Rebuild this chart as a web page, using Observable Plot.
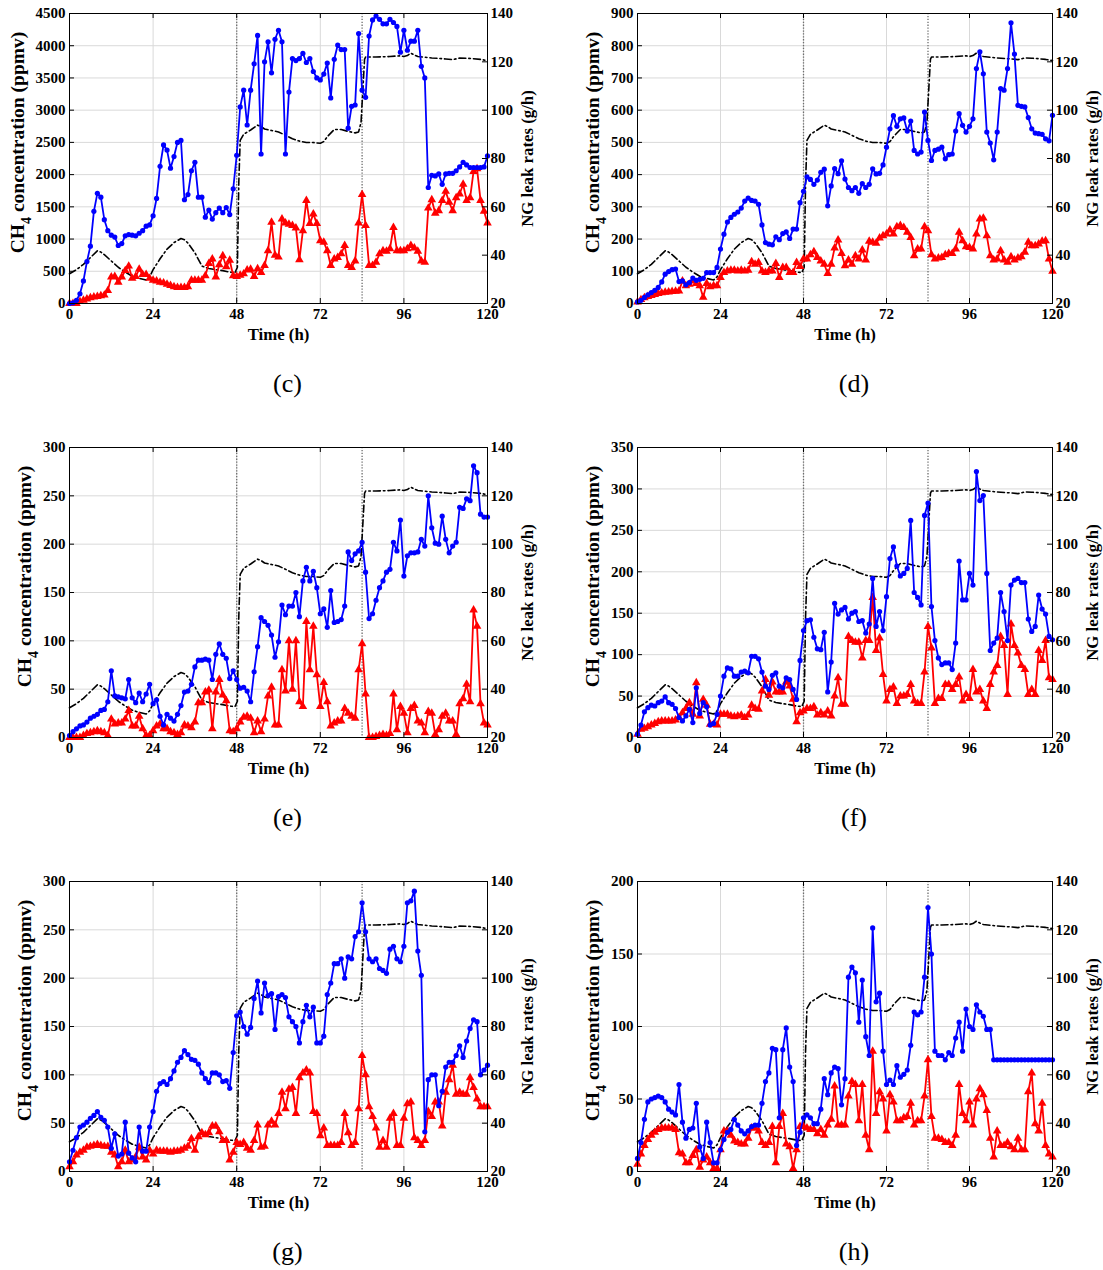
<!DOCTYPE html>
<html><head><meta charset="utf-8">
<script src="https://cdn.jsdelivr.net/npm/d3@7"></script>
<script src="https://cdn.jsdelivr.net/npm/@observablehq/plot@0.6"></script>
<style>
body{margin:0;background:#fff}
#wrap{position:relative;width:1103px;height:1270px;background:#fff}
.panel{position:absolute}
</style>
</head><body><div id="wrap"></div>
<script>
// Hourly values, t = 0..120 h
const cBlue = [
0,10,50,150,350,650,890,1430,1710,1650,
1300,1130,1060,1030,900,930,1050,1070,1060,1050,
1090,1130,1200,1220,1360,1630,2130,2460,2380,2100,
2280,2500,2530,1610,1690,2060,2190,1650,1650,1340,
1450,1310,1410,1480,1410,1490,1380,1780,2300,3050,
3310,2770,3310,3720,4160,2320,3750,4060,3580,4100,
4240,4060,2320,3280,3800,3770,3800,3880,3740,3800,
3600,3500,3470,3560,3730,3190,3790,4010,3940,3940,
2720,3060,3080,4190,3310,3200,4150,4400,4460,4410,
4340,4340,4410,4360,4300,3900,4240,3930,4070,4070,
4240,3680,3500,1800,1990,1980,2010,1850,2010,2020,
2020,2060,2120,2190,2150,2110,2110,2110,2110,2120,
2290];
const cRed = [
0,0,0,30,50,70,90,100,110,120,
130,200,410,420,330,410,510,580,390,420,
530,450,450,390,360,350,330,320,300,280,
260,250,250,250,260,360,360,360,360,430,
620,690,410,600,740,570,670,430,420,440,
460,520,530,420,540,480,590,820,1260,750,
720,1310,1250,1230,1210,1170,680,1130,1600,1240,
1390,1240,975,950,820,590,690,715,770,900,
590,560,660,1250,1690,1210,590,590,640,770,
820,810,850,1180,820,820,820,850,900,860,
810,660,640,1480,1610,1400,1440,1600,1740,1570,
1440,1640,1700,1850,1600,1640,2050,2090,1600,1430,
1250];
const dBlue = [
5,10,19,27,34,41,50,67,91,99,
105,107,68,70,58,65,79,72,75,78,
96,96,96,112,169,215,253,267,277,284,
296,318,327,320,318,308,244,189,184,182,
207,198,217,222,202,231,231,313,348,393,
385,370,383,407,417,303,365,419,403,443,
386,360,350,360,342,372,360,370,418,402,
404,430,485,542,583,550,573,576,535,566,
475,464,470,594,506,444,475,479,485,449,
462,464,535,589,553,532,550,573,729,781,
713,532,498,446,532,667,662,729,871,774,
615,612,610,577,542,529,527,525,511,505,
584];
const dRed = [
5,12,18,22,25,28,31,33,35,36,
37,38,39,70,55,60,70,62,55,19,
62,52,55,55,81,96,101,103,103,101,
103,101,103,130,122,127,101,96,101,101,
124,81,112,112,96,96,127,115,138,138,
151,161,143,132,122,93,122,172,197,155,
117,135,122,148,138,166,135,193,190,187,
203,210,216,228,216,238,242,236,221,205,
148,169,169,238,226,151,138,141,143,151,
155,155,169,221,195,176,174,169,216,262,
265,210,148,135,138,164,135,128,145,135,
141,145,159,190,179,179,185,193,195,138,
100];
const eBlue = [
2,6,9,12,13,16,20,22,24,28,
29,37,69,43,42,41,40,60,41,36,
46,37,45,55,35,39,22,13,24,20,
17,24,33,47,48,55,73,80,80,81,
80,60,86,97,86,82,61,69,60,51,
52,48,37,68,94,124,120,116,106,83,
99,137,127,136,136,150,125,162,176,162,
172,155,128,133,114,152,119,120,122,136,
192,183,190,193,202,171,123,128,142,155,
162,171,174,202,193,225,167,188,191,191,
192,205,198,250,217,201,200,229,205,191,
198,202,238,237,247,245,281,274,231,228,
228];
const eRed = [
0,0,0,0,2,4,5,6,7,6,
5,2,19,14,15,15,19,28,12,12,
22,9,2,2,7,12,14,9,9,6,
5,3,5,13,12,10,16,36,36,47,
49,9,47,60,44,38,7,6,9,16,
21,22,20,5,17,6,19,43,52,13,
13,70,48,100,50,100,37,32,120,70,
115,65,32,57,37,12,15,17,17,30,
25,22,20,70,97,45,0,0,1,2,
3,2,4,45,8,32,25,5,30,33,
17,15,5,27,25,3,8,22,25,17,
17,3,35,40,55,37,132,115,35,15,
13];
const fBlue = [
4,15,31,36,39,38,42,44,49,42,
40,35,24,20,26,34,18,60,29,42,
37,15,17,28,50,74,84,83,74,74,
79,80,78,98,98,95,79,62,58,75,
78,62,60,72,70,58,46,93,129,141,
142,121,107,106,127,55,91,162,149,154,
157,143,150,152,140,141,126,137,192,134,
152,129,170,216,230,207,195,198,204,262,
175,169,160,268,283,158,117,96,88,90,
90,82,114,213,166,166,198,184,321,286,
292,198,105,114,120,175,152,117,184,190,
192,187,187,143,128,134,172,155,149,122,
118];
const fRed = [
4,10,11,13,15,17,19,20,20,20,
20,21,24,30,35,42,28,66,26,46,
39,16,16,15,28,28,28,26,25,26,
27,24,27,39,35,34,56,70,51,67,
55,55,55,67,62,46,19,30,32,35,
35,37,27,30,27,32,26,50,72,40,
40,122,117,115,115,96,117,117,169,105,
120,76,44,58,61,41,50,50,52,64,
44,41,41,79,134,108,41,47,47,64,
64,58,64,73,44,52,47,82,55,58,
44,35,64,79,87,122,111,52,137,111,
102,87,82,52,58,52,105,93,117,72,
70];
const gBlue = [
10,22,35,46,48,51,55,58,62,56,
53,46,24,39,16,18,51,19,14,10,
46,21,21,46,62,83,91,93,90,96,
104,113,118,125,121,116,115,111,102,96,
92,102,102,100,93,94,86,123,161,165,
150,142,149,179,197,164,195,182,184,147,
181,183,180,160,155,150,133,155,172,160,
170,133,133,140,183,195,215,215,220,200,
222,220,243,248,278,248,220,217,220,210,
208,205,230,233,220,217,233,278,280,290,
228,203,41,95,100,100,68,83,108,113,
113,120,130,118,135,148,157,155,100,105,
110];
const gRed = [
5,10,17,20,22,25,26,27,28,27,
26,26,20,17,5,10,22,10,12,15,
25,15,12,22,18,22,21,21,21,20,
21,21,22,24,26,34,22,36,40,38,
40,47,47,41,32,32,12,20,30,28,
30,24,22,32,48,25,26,48,52,48,
60,82,65,85,87,60,97,102,105,102,
62,60,37,45,27,27,27,27,30,60,
40,27,30,65,120,100,67,57,45,25,
32,25,55,60,27,27,55,70,72,35,
32,27,32,62,57,72,72,47,82,95,
110,80,82,80,80,97,87,75,67,67,
67];
const hBlue = [
9,20,36,48,50,51,52,51,48,43,
41,39,60,34,23,29,30,47,17,9,
34,20,6,6,15,22,27,29,36,32,
28,26,28,31,32,32,47,62,68,85,
84,37,84,99,72,62,18,27,37,39,
37,33,33,43,64,53,68,72,71,46,
64,134,141,137,103,132,93,80,168,117,
123,83,60,63,60,73,65,67,70,87,
110,108,110,134,182,150,83,80,80,77,
82,80,92,103,83,112,100,98,115,110,
107,98,98,77,77,77,77,77,77,77,
77,77,77,77,77,77,77,77,77,77,
77];
const hRed = [
5,12,18,22,25,27,29,30,30,30,
30,29,13,12,6,6,11,15,3,8,
10,6,2,2,15,28,28,25,21,20,
19,19,23,30,30,28,20,18,20,31,
6,31,40,19,17,2,15,31,31,30,
29,29,26,29,25,32,36,59,32,32,
32,52,62,60,35,60,25,15,83,40,
55,50,28,53,48,35,35,37,38,47,
32,35,35,52,77,38,23,23,22,20,
20,18,25,60,40,35,48,32,50,57,
53,42,23,10,28,18,18,20,17,15,
23,15,15,55,68,33,28,47,18,12,
10];

// NG leak rate (g/h), right axis
const blackT = [0,2,4,6,8,9,10,12,14,16,18,20,22,23,24,26,28,30,32,33,34,36,38,40,42,44,46,47.5,48.2,48.6,49,50,52,54,55,56,58,60,62,64,66,68,70,72,73,74,76,78,80,82,83,83.7,84.2,84.7,85,88,92,95,96,97,98,99,100,104,108,110,112,114,116,118,120];
const blackG = [32.3,34,36.2,39,41.8,41.3,40.2,37.6,35,33,31.3,30.4,29.7,31,34,38.5,42.5,45.2,46.9,46.4,45,41,35.5,34.5,34,33.6,33,32.8,35,70,87.5,90,91.8,93.8,93.2,92.2,91.6,91,89.6,88.2,87.2,86.6,86.6,86.3,87,89,92,92,91.2,90.6,91,95,108,121,122,122,122.2,122.5,122.2,122.6,123.6,122.8,122.2,121.6,121.2,120.9,121.6,121.5,121.3,121,120.5];

const xTicks = [0, 24, 48, 72, 96, 120];
const rightTicks = [20, 40, 60, 80, 100, 120, 140];
const dividers = [48, 84];
const captions = ["(c)", "(d)", "(e)", "(f)", "(g)", "(h)"];

const panels = [
  {cap: captions[0], blue: cBlue, red: cRed, ymax: 4500, ystep: 500, col: 0, row: 0, labelOffset: 52},
  {cap: captions[1], blue: dBlue, red: dRed, ymax: 900, ystep: 100, col: 1, row: 0, labelOffset: 45},
  {cap: captions[2], blue: eBlue, red: eRed, ymax: 300, ystep: 50, col: 0, row: 1, labelOffset: 45},
  {cap: captions[3], blue: fBlue, red: fRed, ymax: 350, ystep: 50, col: 1, row: 1, labelOffset: 45},
  {cap: captions[4], blue: gBlue, red: gRed, ymax: 300, ystep: 50, col: 0, row: 2, labelOffset: 45},
  {cap: captions[5], blue: hBlue, red: hRed, ymax: 200, ystep: 50, col: 1, row: 2, labelOffset: 45}
];

for (const p of panels) {
  if (p.blue.length !== 121 || p.red.length !== 121) throw new Error(p.cap + " lengths " + p.blue.length + " " + p.red.length);
}
if (blackT.length !== blackG.length) throw new Error("black " + blackT.length + " " + blackG.length);

const cols = [
  {left: 0, width: 551, mL: 69, mR: 64},
  {left: 551, width: 552, mL: 86, mR: 51}
];
const rowTop = [0, 434, 868];
const FONT = '"Liberation Serif","Times New Roman",Times,serif';
const LABEL_SIZE = 16.8;
const LEFT_LABEL_SIZE = 19.5;

function makePanel(p) {
  const c = cols[p.col];
  const k = p.ymax / 120;
  const toL = g => (g - 20) * k;
  const yTicks = d3.range(0, p.ymax + p.ystep / 2, p.ystep);
  const blueData = p.blue.map((v, i) => ({t: i, v}));
  const redData = p.red.map((v, i) => ({t: i, v}));
  const blackData = blackT.map((t, i) => ({t, g: blackG[i]}));
  const tlY = p.ymax * 5 / 290;
  const tlX = 120 * 5 / 417;
  const svg = Plot.plot({
    width: c.width, height: 434,
    marginTop: 13, marginBottom: 131, marginLeft: c.mL, marginRight: c.mR,
    x: {domain: [0, 120]},
    y: {domain: [0, p.ymax]},
    style: {fontFamily: FONT, fontSize: "15px", fontWeight: "bold", color: "black", background: "white", overflow: "visible"},
    marks: [
      Plot.ruleX(xTicks.slice(1, -1), {stroke: "#d9d9d9", strokeWidth: 1}),
      Plot.ruleY(yTicks.slice(1, -1), {stroke: "#d9d9d9", strokeWidth: 1}),
      Plot.ruleX(dividers, {stroke: "#6e6e6e", strokeWidth: 1.3, strokeDasharray: "1.3,1.6"}),
      Plot.line(blackData, {x: "t", y: d => toL(d.g), stroke: "black", strokeWidth: 1.6, strokeDasharray: "7,3,1.6,3"}),
      Plot.line(redData, {x: "t", y: "v", stroke: "#ff0000", strokeWidth: 1.8}),
      Plot.dot(redData, {x: "t", y: "v", symbol: "triangle", fill: "#ff0000", r: 3.2}),
      Plot.line(blueData, {x: "t", y: "v", stroke: "#0000ff", strokeWidth: 1.8}),
      Plot.dot(blueData, {x: "t", y: "v", fill: "#0000ff", r: 2.6}),
      Plot.ruleX(xTicks, {x: d => d, y1: 0, y2: tlY, stroke: "black"}),
      Plot.ruleX(xTicks, {x: d => d, y1: p.ymax - tlY, y2: p.ymax, stroke: "black"}),
      Plot.ruleY(yTicks, {y: d => d, x1: 0, x2: tlX, stroke: "black"}),
      Plot.ruleY(rightTicks.map(toL), {y: d => d, x1: 120 - tlX, x2: 120, stroke: "black"}),
      Plot.frame({stroke: "black", strokeWidth: 1}),
      Plot.axisX(xTicks, {tickSize: 0, tickPadding: 5, tickFormat: "d", label: null}),
      Plot.axisY(yTicks, {tickSize: 0, tickPadding: 4, tickFormat: "d", label: null}),
      Plot.axisY(rightTicks.map(toL), {anchor: "right", tickSize: 0, tickPadding: 3, tickFormat: d => d3.format("d")(Math.round(d / k + 20)), label: null}),
      Plot.text(["Time (h)"], {frameAnchor: "bottom", textAnchor: "middle", lineAnchor: "middle", dy: 31, fontWeight: "bold", fontSize: LABEL_SIZE}),
      Plot.text(["CH4 concentration (ppmv)"], {frameAnchor: "left", textAnchor: "middle", lineAnchor: "middle", dx: -p.labelOffset, dy: -16, rotate: -90, fontWeight: "bold", fontSize: LEFT_LABEL_SIZE}),
      Plot.text(["NG leak rates (g/h)"], {frameAnchor: "right", textAnchor: "middle", lineAnchor: "middle", dx: 40, rotate: -90, fontWeight: "bold", fontSize: LABEL_SIZE}),
      Plot.text([p.cap], {frameAnchor: "bottom", textAnchor: "middle", lineAnchor: "middle", dx: 9, dy: 80, fontWeight: "normal", fontSize: 26})
    ]
  });
  // subscript in CH4
  svg.querySelectorAll("text").forEach(t => {
    if (t.textContent === "CH4 concentration (ppmv)") {
      t.textContent = "";
      const ns = "http://www.w3.org/2000/svg";
      const a = document.createElementNS(ns, "tspan"); a.textContent = "CH";
      const b = document.createElementNS(ns, "tspan"); b.textContent = "4";
      b.setAttribute("dy", "7"); b.setAttribute("font-size", "14");
      const cc = document.createElementNS(ns, "tspan"); cc.textContent = " concentration (ppmv)";
      cc.setAttribute("dy", "-7");
      t.append(a, b, cc);
    }
  });
  const div = document.createElement("div");
  div.className = "panel";
  div.style.left = c.left + "px";
  div.style.top = rowTop[p.row] + "px";
  div.appendChild(svg);
  return div;
}

const wrap = document.getElementById("wrap");
for (const p of panels) wrap.appendChild(makePanel(p));
</script>
</body></html>
